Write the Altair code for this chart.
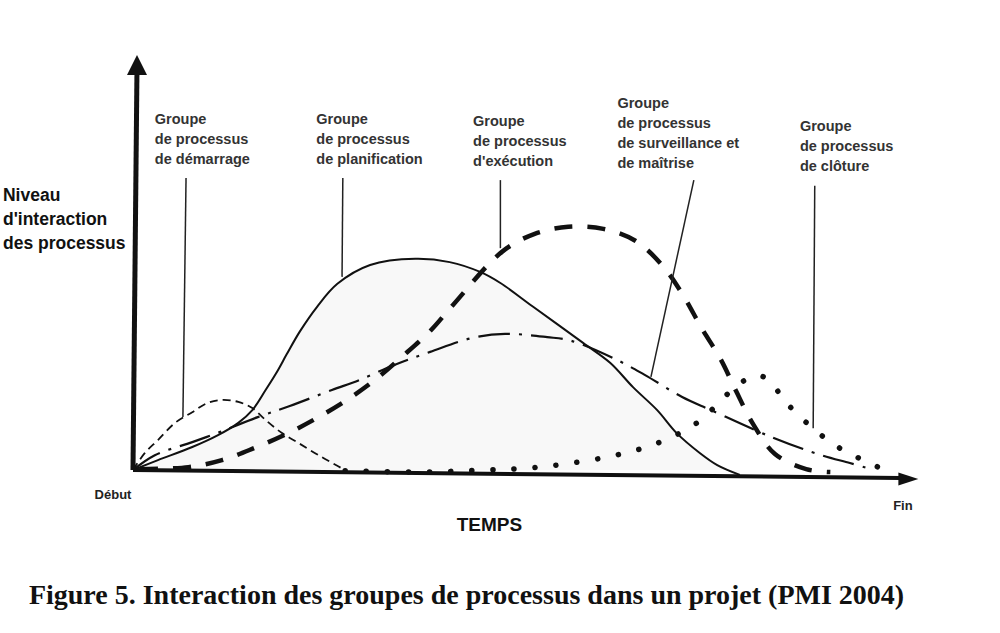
import altair as alt
import pandas as pd

# ---- curve values (time 0..100, level 0..100) ----
demarrage_t = [0, 1.5, 3.2, 5.4, 7.6, 9.5, 11.4, 13.5, 15.3, 17.0, 19.1, 21.2, 23.7, 26.3, 27.4]
demarrage_v = [0, 4.1, 7.3, 11.5, 14.1, 16.3, 17.1, 16.6, 15.1, 12.2, 9.0, 6.6, 3.7, 0.9, -0.3]

planif_t = [0, 3.2, 7.6, 10.9, 13.5, 15.3, 17.0, 18.6, 19.7, 21.4, 23.6, 26.2, 30.4, 36.2,
            40.6, 44.5, 47.1, 51.3, 57.7, 61.2, 64.1, 67.2, 69.7, 72.7, 74.9, 77.8]
planif_v = [0, 2.4, 5.6, 8.5, 11.5, 14.6, 19.5, 24.4, 28.2, 33.8, 39.8, 45.4, 50.0, 51.5,
            50.7, 48.3, 45.6, 39.8, 31.0, 26.1, 20.2, 14.6, 9.0, 4.1, 1.2, -1.2]

exec_t = [0.9, 7.1, 11.4, 15.6, 19.7, 23.6, 27.6, 31.3, 34.6, 38.1, 41.0, 47.3, 51.5,
          55.8, 60.3, 64.4, 67.9, 70.5, 72.9, 75.4, 77.3, 79.5, 82.3, 86.3, 89.4]
exec_v = [0.2, 0.7, 2.4, 5.4, 8.8, 12.7, 17.3, 22.4, 27.8, 33.9, 40.2, 53.2, 57.6,
          59.3, 58.8, 55.9, 49.8, 42.7, 34.6, 26.8, 19.3, 11.2, 3.9, 0.2, -0.5]

surv_t = [0, 2.8, 7.6, 11.2, 16.0, 20.1, 25.5, 29.1, 33.5, 38.1, 43.5, 47.7, 53.1,
          56.2, 62.1, 65.6, 70.4, 74.1, 81.9, 88.1, 91.9, 94.1]
surv_v = [0, 3.6, 6.8, 9.3, 12.9, 15.6, 19.5, 22.0, 25.6, 28.8, 32.2, 33.2, 32.4,
          31.5, 26.8, 23.2, 17.8, 14.6, 8.0, 3.7, 1.7, 0.5]

clot_t = [27.2, 36.8, 45.4, 50.9, 56.3, 62.1, 67.3, 72.3, 76.5, 78.7, 80.0, 81.4,
          83.2, 85.0, 89.4, 91.8, 94.4, 96.9]
clot_v = [-0.2, -0.5, 0, 0.5, 1.7, 3.7, 6.6, 11.5, 19.0, 22.2, 23.0, 22.2,
          17.8, 13.9, 6.8, 4.1, 1.7, -0.5]

# ---- annotation texts ----
group_labels = [
    "Groupe\nde processus\nde démarrage",
    "Groupe\nde processus\nde planification",
    "Groupe\nde processus\nd'exécution",
    "Groupe\nde processus\nde surveillance et\nde maîtrise",
    "Groupe\nde processus\nde clôture",
]
label_t = [2.8, 23.5, 43.6, 62.1, 85.5]
label_v = [87.1, 87.1, 86.6, 91.0, 85.4]

leader_t1 = [6.8, 26.9, 47.1, 71.9, 87.4]
leader_v1 = [71.2, 71.2, 70.7, 70.7, 69.3]
leader_t2 = [6.4, 26.8, 47.1, 66.4, 87.2]
leader_v2 = [12.9, 47.1, 54.1, 22.7, 10.2]

y_title = "Niveau\nd'interaction\ndes processus"
x_title = "TEMPS"
start_label = "Début"
end_label = "Fin"
caption = "Figure 5. Interaction des groupes de processus dans un projet (PMI 2004)"

# ---- tables ----
rows = []
for name, ts, vs in [("demarrage", demarrage_t, demarrage_v),
                     ("planification", planif_t, planif_v),
                     ("execution", exec_t, exec_v),
                     ("surveillance", surv_t, surv_v),
                     ("cloture", clot_t, clot_v)]:
    for i, (t, v) in enumerate(zip(ts, vs)):
        rows.append({"serie": name, "t": t, "v": v, "i": i})
curves = pd.DataFrame(rows)

labels_df = pd.DataFrame({"t": label_t, "v": label_v, "txt": group_labels})
leaders_df = pd.DataFrame({"t": leader_t1, "v": leader_v1, "t2": leader_t2, "v2": leader_v2})
axes_df = pd.DataFrame({"t": [0, 0], "v": [0, 0], "t2": [0.51, 98.3], "v2": [97.6, -1.95], "w": [5, 4]})

X = alt.Scale(domain=[-17.05, 111.15])
Y = alt.Scale(domain=[-39.76, 114.63])

def xe(f="t"):
    return alt.X(f + ":Q", scale=X, axis=None)

def ye(f="v"):
    return alt.Y(f + ":Q", scale=Y, axis=None)

base = alt.Chart(curves)

def curve(name, **mk):
    return base.transform_filter(alt.datum.serie == name).mark_line(
        interpolate="catmull-rom", color="#111111", **mk
    ).encode(x=xe(), y=ye(), order="i:Q")

shade = base.transform_filter(alt.datum.serie == "planification").mark_area(
    interpolate="catmull-rom", color="#9a9a9a", opacity=0.07
).encode(x=xe(), y=ye(), y2=alt.datum(0))

c_dem = curve("demarrage", strokeWidth=1.8, strokeDash=[8, 5])
c_pla = curve("planification", strokeWidth=2)
c_exe = curve("execution", strokeWidth=4.5, strokeDash=[18, 15])
c_sur = curve("surveillance", strokeWidth=2.2, strokeDash=[32, 9, 3, 9])
c_clo = curve("cloture", strokeWidth=5.5, strokeDash=[0.1, 21], strokeCap="round")

axes = alt.Chart(axes_df).mark_rule(color="#111111").encode(
    x=xe(), y=ye(), x2="t2:Q", y2="v2:Q", strokeWidth=alt.StrokeWidth("w:Q", scale=None)
)

arrow_up = alt.Chart(pd.DataFrame({"t": [0.51], "v": [98.8]})).mark_point(
    shape="M0,-1L-1,1L1,1Z", size=400, filled=True, color="#111111", opacity=1
).encode(x=xe(), y=ye())
arrow_right = alt.Chart(pd.DataFrame({"t": [99.4], "v": [-2.2]})).mark_point(
    shape="M1,0L-1,-0.65L-1,0.65Z", size=400, filled=True, color="#111111", opacity=1
).encode(x=xe(), y=ye())

leaders = alt.Chart(leaders_df).mark_rule(color="#222222", strokeWidth=1.5).encode(
    x=xe(), y=ye(), x2="t2:Q", y2="v2:Q"
)

labels = alt.Chart(labels_df).mark_text(
    align="left", baseline="top", lineBreak="\n", lineHeight=20,
    fontSize=14.5, font="Liberation Sans", fontWeight="bold", color="#333333"
).encode(x=xe(), y=ye(), text="txt:N")

def single_text(t, v, txt, **mk):
    return alt.Chart(pd.DataFrame({"t": [t], "v": [v], "txt": [txt]})).mark_text(**mk).encode(
        x=xe(), y=ye(), text="txt:N")

ytitle = single_text(-16.67, 69.07, y_title, align="left", baseline="top", lineBreak="\n",
                     lineHeight=24, fontSize=17.5, font="Liberation Sans", fontWeight="bold",
                     color="#111111")
xtitle = single_text(45.7, -13.5, x_title, align="center", baseline="middle", fontSize=19,
                     font="Liberation Sans", fontWeight="bold", color="#111111")
start_t = single_text(-2.56, -6.1, start_label, align="center", baseline="middle", fontSize=13,
                      font="Liberation Sans", fontWeight="bold", color="#222222")
end_t = single_text(98.7, -8.8, end_label, align="center", baseline="middle", fontSize=13,
                    font="Liberation Sans", fontWeight="bold", color="#222222")
cap = single_text(42.76, -32.7, caption, align="center", baseline="alphabetic", fontSize=28,
                  font="Liberation Serif", fontWeight="bold", color="#111111")

chart = alt.layer(
    shade, c_dem, c_pla, c_sur, c_clo, c_exe, axes, arrow_up, arrow_right, leaders,
    labels, ytitle, xtitle, start_t, end_t, cap
).properties(
    width=1000, height=633, padding=0, background="white",
    autosize=alt.AutoSizeParams(type="none")
).configure_view(stroke=None)

chart.save("out.html", embed_options={"renderer": "svg", "actions": False})
